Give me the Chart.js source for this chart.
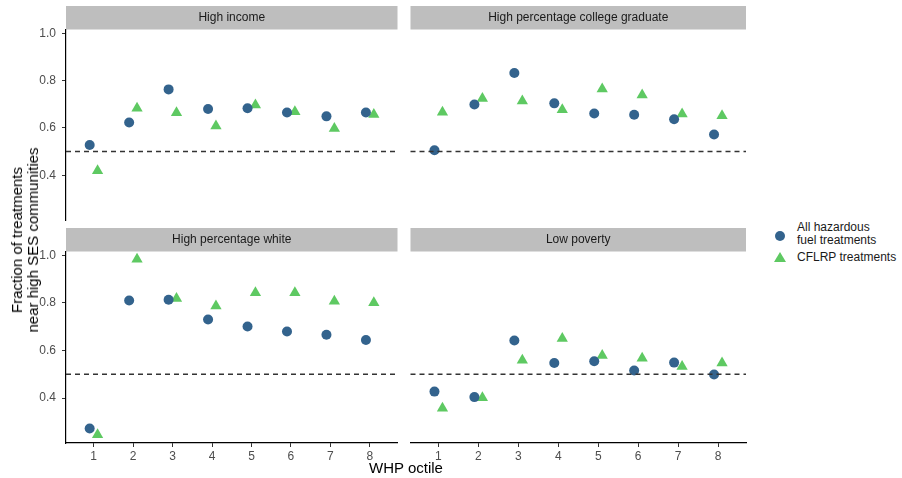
<!DOCTYPE html>
<html>
<head>
<meta charset="utf-8">
<script src="https://cdn.jsdelivr.net/npm/chart.js@4"></script>
<style>
  body { margin: 0; background: #fff; font-family: "Liberation Sans", Arial, sans-serif; }
  #wrap { position: relative; width: 902px; height: 478px; overflow: hidden; }
  canvas { position: absolute; }
  .ytitle { position: absolute; left: 25px; top: 240px; transform: translate(-50%, -50%) rotate(-90deg);
            font-size: 15px; line-height: 16px; text-align: center; color: #000; white-space: nowrap; }
  .xtitle { position: absolute; left: 406px; top: 459px; transform: translateX(-50%); font-size: 15px; color: #000; }
  .legend { position: absolute; left: 772px; top: 221px; font-size: 12px; color: #1a1a1a; line-height: 13px; }
  .item { position: relative; padding-left: 25px; }
  .dot { position: absolute; left: 3px; width: 10px; height: 10px; border-radius: 50%; background: #33638d; }
  .tri { position: absolute; left: 2px; width: 0; height: 0; border-left: 6px solid transparent;
         border-right: 6px solid transparent; border-bottom: 10px solid #5ec962; }
</style>
</head>
<body>
<div id="wrap">
  <canvas id="tl" width="404" height="240" style="left:0;top:0"></canvas>
  <canvas id="tr" width="350" height="240" style="left:404px;top:0"></canvas>
  <canvas id="bl" width="404" height="256" style="left:0;top:222px"></canvas>
  <canvas id="br" width="350" height="256" style="left:404px;top:222px"></canvas>
  <div class="ytitle">Fraction of treatments<br>near high SES communities</div>
  <div class="xtitle">WHP octile</div>
  <div class="legend">
    <div class="item"><span class="dot" style="top:10px"></span>All hazardous<br>fuel treatments</div>
    <div class="item" style="margin-top:4px"><span class="tri" style="top:1px"></span>CFLRP treatments</div>
  </div>
</div>
<script>
const octiles = [1, 2, 3, 4, 5, 6, 7, 8];
const yTicks = [0.4, 0.6, 0.8, 1.0];

const incomeAll = [0.528, 0.623, 0.763, 0.680, 0.683, 0.665, 0.649, 0.665];
const incomeCflrp = [0.419, 0.683, 0.664, 0.608, 0.697, 0.669, 0.598, 0.657];
const collegeAll = [0.506, 0.699, 0.832, 0.704, 0.661, 0.656, 0.637, 0.572];
const collegeCflrp = [0.666, 0.725, 0.714, 0.677, 0.765, 0.739, 0.659, 0.652];
const whiteAll = [0.272, 0.810, 0.813, 0.730, 0.701, 0.680, 0.666, 0.644];
const whiteCflrp = [0.246, 0.983, 0.818, 0.787, 0.843, 0.843, 0.807, 0.801];
const povertyAll = [0.427, 0.404, 0.642, 0.547, 0.555, 0.516, 0.549, 0.499];
const povertyCflrp = [0.357, 0.401, 0.559, 0.650, 0.579, 0.567, 0.533, 0.547];

const refLine = 0.5;
const blue = '#33638d';
const green = '#5ec962';
const font = '"Liberation Sans", Arial, sans-serif';

// grey strip on top of each panel + dashed reference line
const facetPlugin = {
  id: 'facet',
  beforeDraw(chart, args, opts) {
    const a = chart.chartArea;
    const ctx = chart.ctx;
    ctx.save();
    ctx.fillStyle = '#bebebe';
    ctx.fillRect(a.left, a.top - 24, a.right - a.left, 23.5);
    ctx.fillStyle = '#1a1a1a';
    ctx.font = '12px ' + font;
    ctx.textAlign = 'center';
    ctx.textBaseline = 'middle';
    ctx.fillText(opts.text, (a.left + a.right) / 2, a.top - 12);
    ctx.restore();
  },
  afterDatasetsDraw(chart) {
    const a = chart.chartArea;
    const y = chart.scales.y.getPixelForValue(refLine);
    const ctx = chart.ctx;
    ctx.save();
    ctx.strokeStyle = '#333';
    ctx.lineWidth = 1.5;
    ctx.setLineDash([5, 4]);
    ctx.beginPath();
    ctx.moveTo(a.left, y);
    ctx.lineTo(a.right, y);
    ctx.stroke();
    ctx.restore();
  }
};

function makePanel(id, title, all, cflrp, showX, showY) {
  const pad = {
    top: 30,
    bottom: showX ? 15 : 20,
    left: showY ? 0 : 6,
    right: showY ? 2 : 8
  };
  new Chart(document.getElementById(id), {
    type: 'scatter',
    data: {
      datasets: [{
        label: 'All hazardous fuel treatments',
        data: octiles.map((o, i) => ({ x: o - 0.1, y: all[i] })),
        backgroundColor: blue,
        borderWidth: 0,
        pointStyle: 'circle',
        pointRadius: 5
      }, {
        label: 'CFLRP treatments',
        data: octiles.map((o, i) => ({ x: o + 0.1, y: cflrp[i] })),
        backgroundColor: green,
        borderWidth: 0,
        pointStyle: 'triangle',
        pointRadius: 6.5
      }]
    },
    options: {
      responsive: false,
      animation: false,
      layout: { padding: pad },
      plugins: {
        legend: { display: false },
        tooltip: { enabled: false },
        facet: { text: title }
      },
      scales: {
        x: {
          type: 'linear',
          min: 0.3,
          max: 8.7,
          display: showX,
          afterBuildTicks: s => { s.ticks = octiles.map(v => ({ value: v })); },
          afterFit: s => { if (showX) s.height = 20; },
          border: { display: true, color: '#000', width: 1.2 },
          grid: { drawOnChartArea: false, drawTicks: true, tickLength: 4, color: '#333' },
          ticks: { padding: 2, color: '#4d4d4d', font: { family: font, size: 12 } }
        },
        y: {
          min: 0.211,
          max: 1.014,
          display: showY,
          afterBuildTicks: s => { s.ticks = yTicks.map(v => ({ value: v })); },
          afterFit: s => { if (showY) s.width = 66; },
          border: { display: true, color: '#000', width: 1.2 },
          grid: { drawOnChartArea: false, drawTicks: true, tickLength: 4, color: '#333' },
          ticks: {
            padding: 6,
            color: '#4d4d4d',
            font: { family: font, size: 12 },
            callback: v => v.toFixed(1)
          }
        }
      }
    },
    plugins: [facetPlugin]
  });
}

makePanel('tl', 'High income', incomeAll, incomeCflrp, false, true);
makePanel('tr', 'High percentage college graduate', collegeAll, collegeCflrp, false, false);
makePanel('bl', 'High percentage white', whiteAll, whiteCflrp, true, true);
makePanel('br', 'Low poverty', povertyAll, povertyCflrp, true, false);
</script>
</body>
</html>
